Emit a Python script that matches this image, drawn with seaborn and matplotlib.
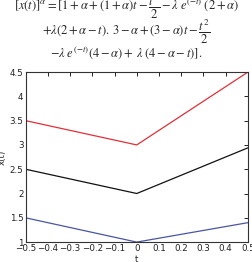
import matplotlib
matplotlib.use("Agg")
import matplotlib.pyplot as plt
import seaborn as sns
import pandas as pd

t = [-0.5, 0.0, 0.5]
red = [3.5, 3.0, 4.5]
black = [2.5, 2.0, 2.94]
blue = [1.5, 1.0, 1.4]
xticks = [-0.5, -0.4, -0.3, -0.2, -0.1, 0, 0.1, 0.2, 0.3, 0.4, 0.5]
xticklabels = ["\u22120.5", "\u22120.4", "\u22120.3", "\u22120.2", "\u22120.1", "0", "0.1", "0.2", "0.3", "0.4", "0.5"]
yticks = [1, 1.5, 2, 2.5, 3, 3.5, 4, 4.5]
yticklabels = ["1", "1.5", "2", "2.5", "3", "3.5", "4", "4.5"]

sns.set_style("white")
plt.rcParams['font.family'] = ['DejaVu Sans']
plt.rcParams['mathtext.fontset'] = 'stix'

fig = plt.figure(figsize=(2.53, 2.62), dpi=100)
ax = fig.add_axes([0.101, 0.076, 0.879, 0.649])

df = pd.DataFrame({"t": t * 3,
                   "x": red + black + blue,
                   "s": ["r"] * 3 + ["k"] * 3 + ["b"] * 3})
sns.lineplot(data=df, x="t", y="x", hue="s",
             palette={"r": "#e0303a", "k": "#111111", "b": "#4a55a0"},
             linewidth=0.9, legend=False, ax=ax)

ax.set_xlim(-0.5, 0.5)
ax.set_ylim(1, 4.5)
ax.set_xticks(xticks)
ax.set_xticklabels(xticklabels)
ax.set_yticks(yticks)
ax.set_yticklabels(yticklabels)
ax.tick_params(direction="in", length=3, width=0.7, labelsize=6.3, pad=1.5,
               top=True, right=True, colors="#222222")
for sp in ax.spines.values():
    sp.set_color("#333333")
    sp.set_linewidth(0.8)
ax.set_xlabel("t", fontsize=6.3, labelpad=1)
ax.set_ylabel("x(t)", fontsize=6.3, labelpad=2)

fs = 9
fig.text(0.5, 0.961, r"$[x(t)]^{\alpha} = [1 + \alpha + (1 + \alpha)t - \dfrac{t^2}{2} - \lambda\; e^{(-t)}\;(2 + \alpha)$",
         ha="center", va="baseline", fontsize=fs)
fig.text(0.5, 0.865, r"$+\lambda(2 + \alpha - t).\,3 - \alpha + (3 - \alpha)t - \dfrac{t^2}{2}$",
         ha="center", va="baseline", fontsize=fs)
fig.text(0.5, 0.784, r"$-\lambda\; e^{(-t)}(4 - \alpha) +\; \lambda\;(4 - \alpha - t)].$",
         ha="center", va="baseline", fontsize=fs)

fig.savefig("out.png", dpi=100)
